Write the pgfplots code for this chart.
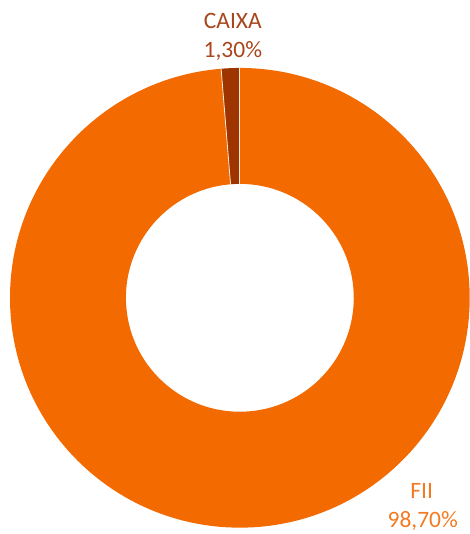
\documentclass[border=0pt]{standalone}
\usepackage{pgfplots}
\pgfplotsset{compat=1.18}
\usepackage{pgfplotstable}
\usepackage{fontspec}
\setmainfont{Carlito}
\definecolor{fii}{HTML}{F26A00}
\definecolor{caixa}{HTML}{9E3500}
\definecolor{fiitxt}{HTML}{F27A22}
\definecolor{caixatxt}{HTML}{A8451A}
\pgfplotstableread{
name value
FII 98.7
CAIXA 1.3
}\shares
\begin{document}
\begin{tikzpicture}
\pgfplotstablegetelem{0}{value}\of\shares \let\vfii\pgfplotsretval
\pgfplotstablegetelem{1}{value}\of\shares \let\vcaixa\pgfplotsretval
\pgfmathsetmacro{\aA}{90}
\pgfmathsetmacro{\aB}{90-3.6*\vfii}
\pgfmathsetmacro{\aC}{\aB-3.6*\vcaixa}
\begin{axis}[
  width=470pt, height=534pt, scale only axis,
  xmin=0, xmax=470, ymin=0, ymax=534,
  hide axis, clip=false,
]
\addplot[draw=none] coordinates {(0,0) (470,534)};
\begin{scope}[shift={(axis cs:240,236)}]
  \fill[fii] (\aA:230pt) arc[start angle=\aA, end angle=\aB, radius=230pt]
    -- (\aB:114pt) arc[start angle=\aB, end angle=\aA, radius=114pt] -- cycle;
  \fill[caixa] (\aB:230pt) arc[start angle=\aB, end angle=\aC, radius=230pt]
    -- (\aC:114pt) arc[start angle=\aC, end angle=\aB, radius=114pt] -- cycle;
  \draw[white!85!fii, line width=0.8pt] (\aA:114pt) -- (\aA:230pt);
  \draw[white!85!fii, line width=0.8pt] (\aB:114pt) -- (\aB:230pt);
\end{scope}
\node[anchor=base, text=caixatxt, font=\fontsize{23.5}{28}\selectfont] at (axis cs:233,505) {CAIXA};
\node[anchor=base, text=caixatxt, font=\fontsize{23.5}{28}\selectfont] at (axis cs:233,476) {1,30\%};
\node[anchor=base, text=fiitxt, font=\fontsize{23.5}{28}\selectfont] at (axis cs:422,35) {FII};
\node[anchor=base, text=fiitxt, font=\fontsize{23.5}{28}\selectfont] at (axis cs:423,6) {98,70\%};
\end{axis}
\end{tikzpicture}
\end{document}
